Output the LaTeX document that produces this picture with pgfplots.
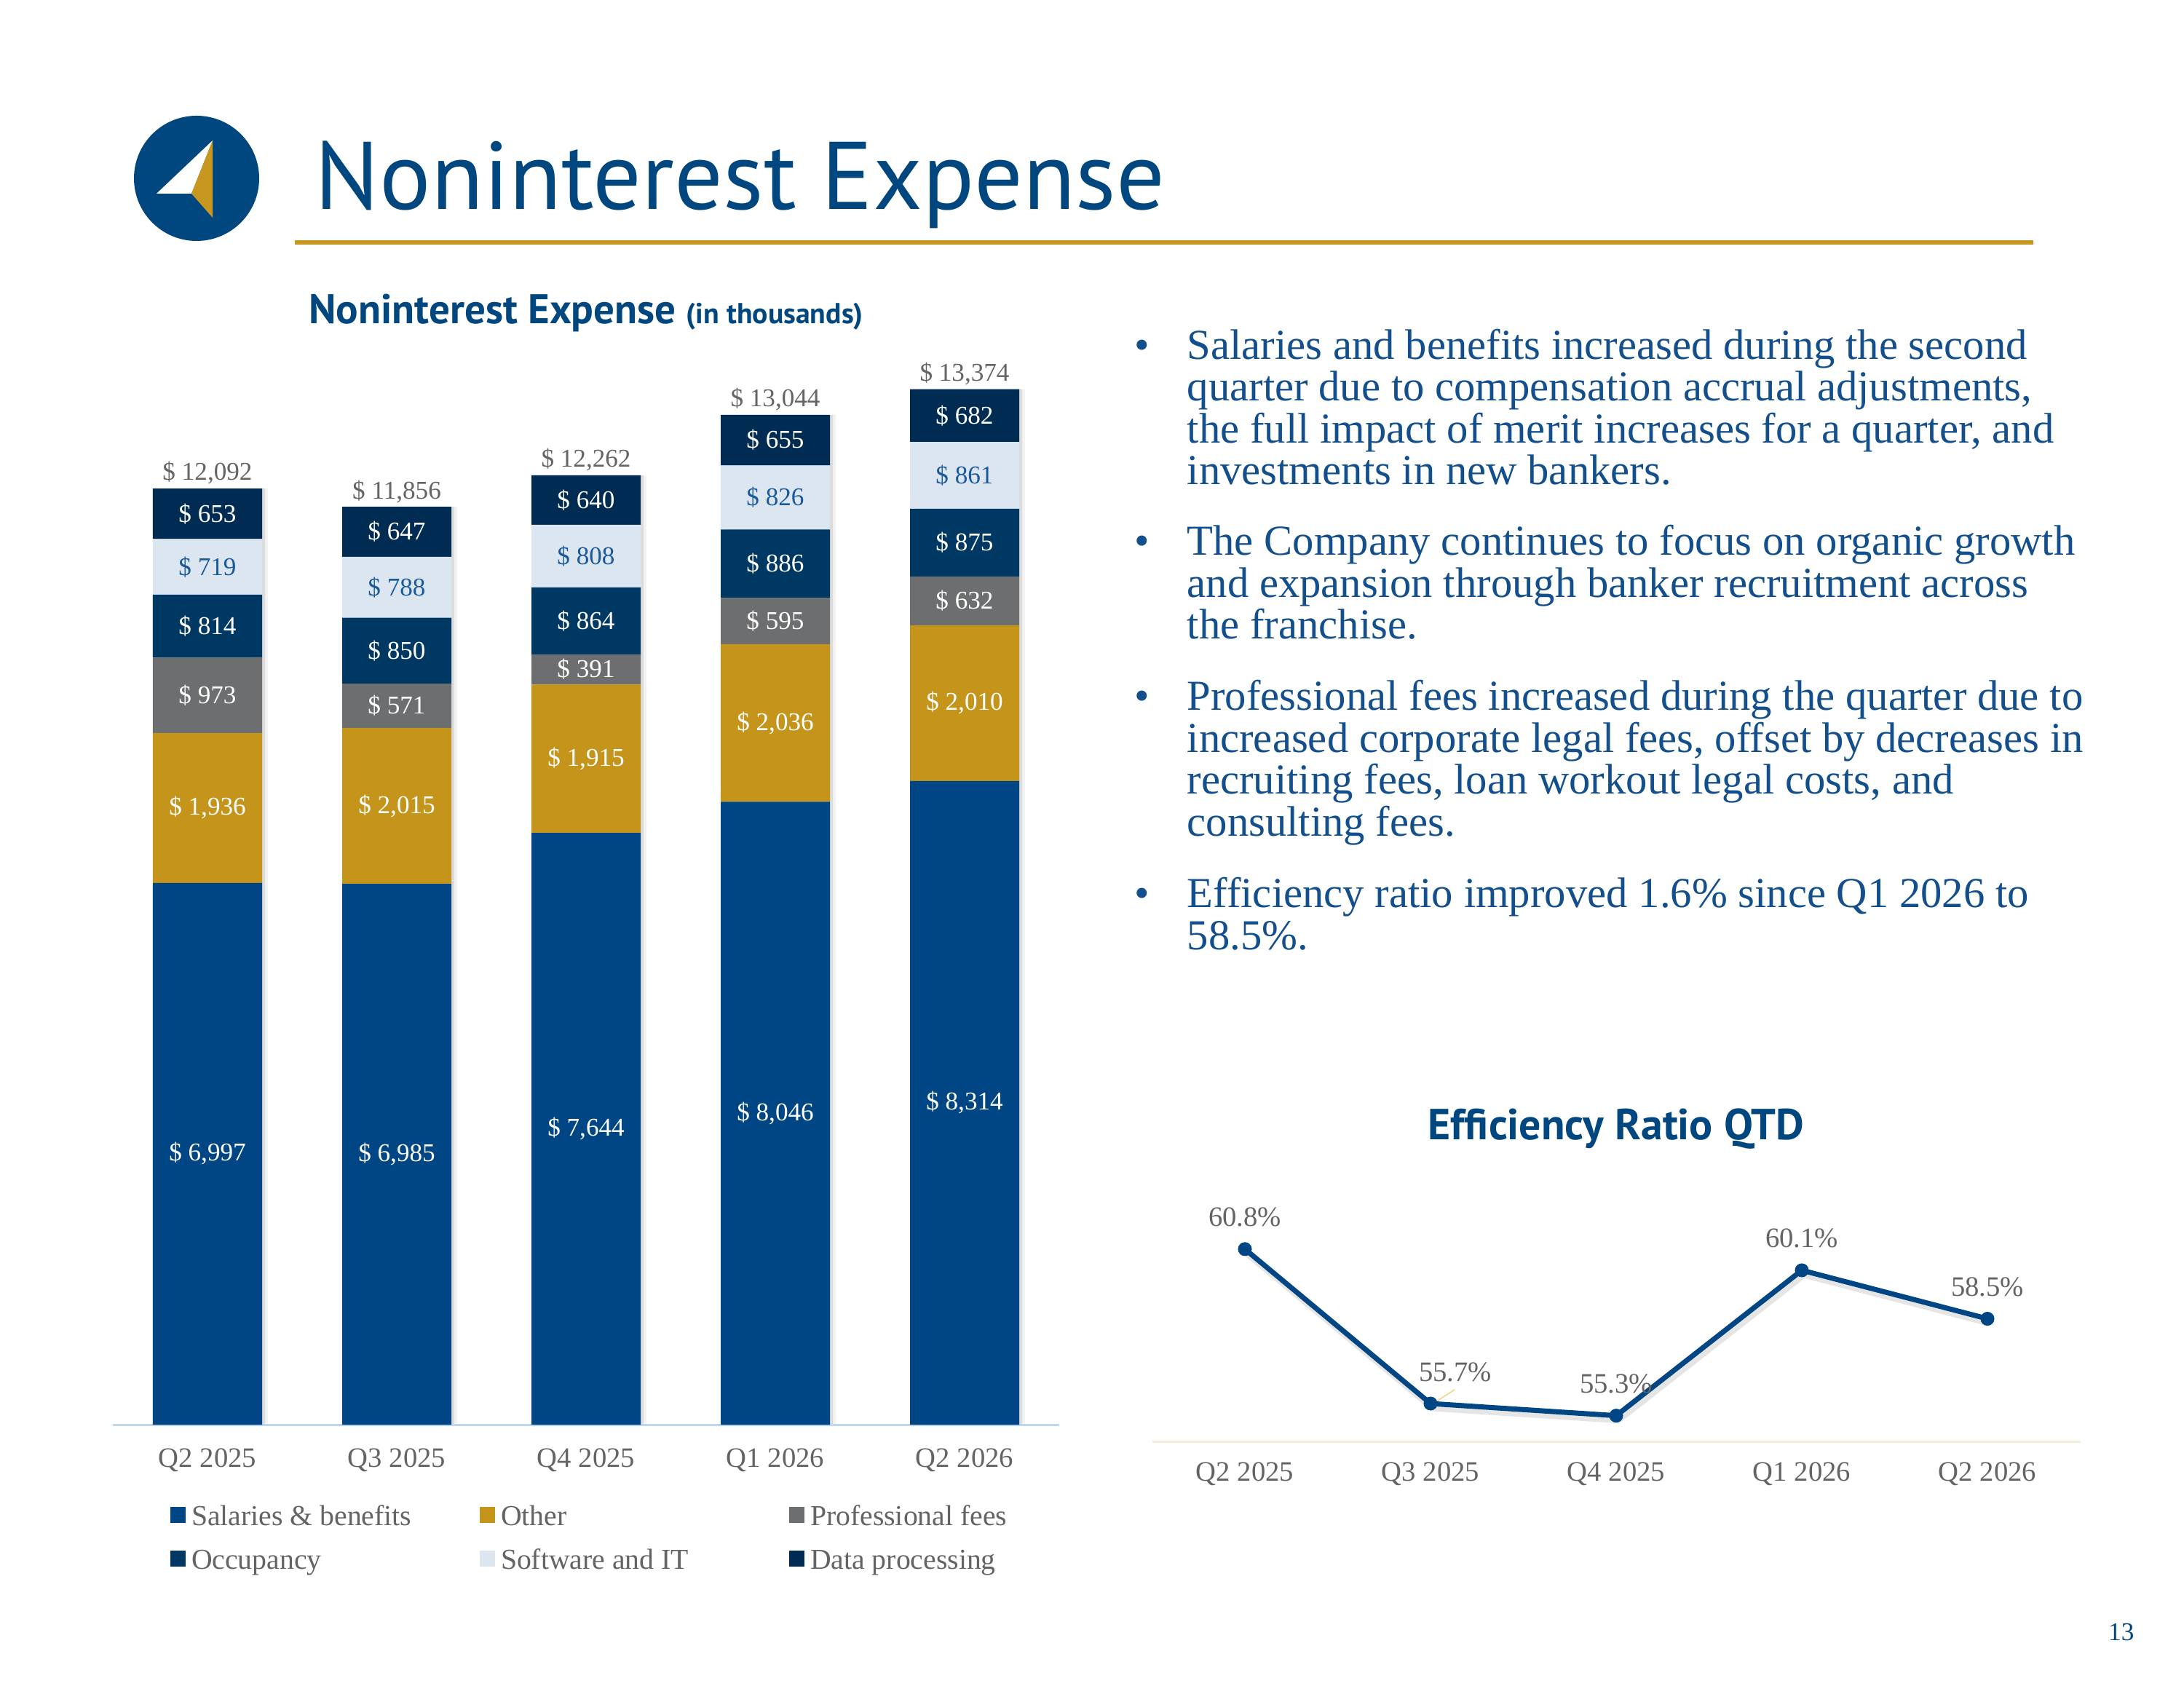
\documentclass[border=0pt]{standalone}
\usepackage{fontspec}
\usepackage{pgfplots}
\usepackage{pgfplotstable}
\pgfplotsset{compat=1.18}
\setmainfont{Liberation Serif}
\newfontfamily\headfont{PT Sans}

\definecolor{brandblue}{HTML}{00467F}
\definecolor{brandgold}{HTML}{C8971F}
\definecolor{salblue}{HTML}{004685}
\definecolor{othgold}{HTML}{C4941B}
\definecolor{progray}{HTML}{6D6E70}
\definecolor{occnavy}{HTML}{003864}
\definecolor{swlight}{HTML}{DCE6F0}
\definecolor{dpnavy}{HTML}{002C54}
\definecolor{axisblue}{HTML}{BDD7EE}
\definecolor{axiscream}{HTML}{F3EEDB}
\definecolor{labelgray}{HTML}{646464}
\definecolor{swtext}{HTML}{1A5A9A}
\definecolor{bodyblue}{HTML}{134F8C}
\definecolor{lineblue}{HTML}{004685}
\definecolor{leadgold}{HTML}{F2D48A}

% Noninterest expense by category, in thousands
\pgfplotstableread{
x sal oth pro occ sw dp
0 6997 1936 973 814 719 653
1 6985 2015 571 850 788 647
2 7644 1915 391 864 808 640
3 8046 2036 595 886 826 655
4 8314 2010 632 875 861 682
}\expensedata
% quarter total and the middle height of every segment, for the labels
\pgfplotstablecreatecol[create col/expr={\thisrow{sal}+\thisrow{oth}+\thisrow{pro}+\thisrow{occ}+\thisrow{sw}+\thisrow{dp}}]{total}\expensedata
\pgfplotstablecreatecol[create col/expr={\thisrow{sal}/2}]{msal}\expensedata
\pgfplotstablecreatecol[create col/expr={\thisrow{sal}+\thisrow{oth}/2}]{moth}\expensedata
\pgfplotstablecreatecol[create col/expr={\thisrow{sal}+\thisrow{oth}+\thisrow{pro}/2}]{mpro}\expensedata
\pgfplotstablecreatecol[create col/expr={\thisrow{sal}+\thisrow{oth}+\thisrow{pro}+\thisrow{occ}/2}]{mocc}\expensedata
\pgfplotstablecreatecol[create col/expr={\thisrow{sal}+\thisrow{oth}+\thisrow{pro}+\thisrow{occ}+\thisrow{sw}/2}]{msw}\expensedata
\pgfplotstablecreatecol[create col/expr={\thisrow{sal}+\thisrow{oth}+\thisrow{pro}+\thisrow{occ}+\thisrow{sw}+\thisrow{dp}/2}]{mdp}\expensedata

% Efficiency ratio (QTD, percent)
\pgfplotstableread{
x ratio
0 60.8
1 55.7
2 55.3
3 60.1
4 58.5
}\effdata

\pgfplotsset{
  /pgf/number format/assume math mode=true,
  expaxis/.style={
    at={(1.55cm,3.58cm)}, anchor=south west,
    scale only axis, width=13cm, height=14.889cm,
    xmin=-0.5, xmax=4.5, ymin=0, ymax=14000,
    clip=false,
  },
  seglabel/.style={
    draw=none, mark=none, point meta=explicit,
    nodes near coords={\$ \pgfmathprintnumber{\pgfplotspointmeta}},
    every node near coord/.append style={anchor=center,
      font=\fontsize{10}{12}\selectfont, text=#1},
  },
  pctlabel/.style={
    draw=none, mark=none, point meta=explicit,
    nodes near coords={\pgfmathprintnumber[fixed,fixed zerofill,precision=1]{\pgfplotspointmeta}\%},
    every node near coord/.append style={anchor=base, yshift=0.31cm,
      font=\fontsize{11}{13}\selectfont, text=labelgray},
  },
}

\begin{document}
\begin{tikzpicture}
% page
\fill[white] (0,0) rectangle (30,23.15);

% logo
\fill[brandblue] (2.70,20.70) circle (0.86);
\fill[white] (2.92,21.22) -- (2.15,20.49) -- (2.63,20.49) -- cycle;
\fill[brandgold] (2.92,21.22) -- (2.63,20.49) -- (2.92,20.16) -- cycle;

% heading
\node[anchor=base west, inner sep=0, text=brandblue] at (4.32,20.27)
  {\headfont\fontsize{37.5}{44}\selectfont Noninterest Expense};
\draw[brandgold, line width=0.06cm] (4.05,19.82) -- (27.93,19.82);

% chart titles
\node[anchor=base, inner sep=0, text=brandblue] at (8.05,18.70)
  {\headfont\bfseries\fontsize{16.2}{19}\selectfont Noninterest Expense \fontsize{11.3}{13}\selectfont(in thousands)};
\node[anchor=base, inner sep=0, text=brandblue] at (22.20,7.49)
  {\headfont\bfseries\fontsize{17}{20}\selectfont Efficiency Ratio QTD};

% commentary
\begin{scope}[every node/.style={anchor=base west, inner sep=0, text=bodyblue,
    font=\fontsize{16.7}{20}\selectfont}]
\node at (15.58,18.215) {•};
\node at (16.30,18.215) {Salaries and benefits increased during the second};
\node at (16.30,17.641) {quarter due to compensation accrual adjustments,};
\node at (16.30,17.067) {the full impact of merit increases for a quarter, and};
\node at (16.30,16.493) {investments in new bankers.};
\node at (15.58,15.52) {•};
\node at (16.30,15.52) {The Company continues to focus on organic growth};
\node at (16.30,14.946) {and expansion through banker recruitment across};
\node at (16.30,14.372) {the franchise.};
\node at (15.58,13.39) {•};
\node at (16.30,13.39) {Professional fees increased during the quarter due to};
\node at (16.30,12.816) {increased corporate legal fees, offset by decreases in};
\node at (16.30,12.242) {recruiting fees, loan workout legal costs, and};
\node at (16.30,11.668) {consulting fees.};
\node at (15.58,10.68) {•};
\node at (16.30,10.68) {Efficiency ratio improved 1.6\% since Q1 2026 to};
\node at (16.30,10.106) {58.5\%.};
\end{scope}

% page number
\node[anchor=base east, inner sep=0, text=brandblue] at (29.32,0.62)
  {\fontsize{10}{12}\selectfont 13};

% soft shadow to the right of each bar
\begin{axis}[expaxis, hide axis]
\addplot[ybar, bar width=1.5cm, bar shift=0.08cm, fill=black, opacity=0.05, draw=none]
  table[x=x, y=total] {\expensedata};
\addplot[ybar, bar width=1.5cm, bar shift=0.04cm, fill=black, opacity=0.09, draw=none]
  table[x=x, y=total] {\expensedata};
\end{axis}

% stacked expense bars
\begin{axis}[expaxis,
  ybar stacked, bar width=1.5cm,
  axis x line*=bottom, axis y line=none,
  x axis line style={draw=axisblue, line width=0.03cm},
  xtick={0,1,2,3,4},
  xticklabels={Q2 2025,Q3 2025,Q4 2025,Q1 2026,Q2 2026},
  xtick style={draw=none}, major tick length=0pt,
  xticklabel style={font=\fontsize{11}{13}\selectfont, text=labelgray, anchor=base, yshift=-0.58cm},
  ytick=\empty,
  legend columns=3,
  legend cell align=left,
  legend image code/.code={\fill[#1] (0cm,-0.06cm) rectangle (0.21cm,0.16cm);},
  legend style={at={(0.0608,-0.0732)}, anchor=north west, draw=none, fill=none,
    inner sep=0pt, outer sep=0pt, row sep=0.20cm,
    font=\fontsize{11.3}{13}\selectfont, text=labelgray,
    /tikz/every odd column/.append style={column sep=0.02cm},
    /tikz/every even column/.append style={column sep=0cm},
    nodes={text width=3.9cm, align=flush left, text height=0.3cm, text depth=0.1cm,
      inner xsep=0.06cm, inner ysep=0pt}},
]
\addplot[fill=salblue, draw=none] table[x=x, y=sal] {\expensedata};
\addlegendentry{Salaries \& benefits}
\addplot[fill=othgold, draw=none] table[x=x, y=oth] {\expensedata};
\addlegendentry{Other}
\addplot[fill=progray, draw=none] table[x=x, y=pro] {\expensedata};
\addlegendentry{Professional fees}
\addplot[fill=occnavy, draw=none] table[x=x, y=occ] {\expensedata};
\addlegendentry{Occupancy}
\addplot[fill=swlight, draw=none] table[x=x, y=sw] {\expensedata};
\addlegendentry{Software and IT}
\addplot[fill=dpnavy, draw=none] table[x=x, y=dp] {\expensedata};
\addlegendentry{Data processing}
\end{axis}

% value labels: each centred in its segment, totals above the stacks
\begin{axis}[expaxis, hide axis]
\addplot[seglabel=white] table[x=x, y=msal, meta=sal] {\expensedata};
\addplot[seglabel=white] table[x=x, y=moth, meta=oth] {\expensedata};
\addplot[seglabel=white] table[x=x, y=mpro, meta=pro] {\expensedata};
\addplot[seglabel=white] table[x=x, y=mocc, meta=occ] {\expensedata};
\addplot[seglabel=swtext] table[x=x, y=msw, meta=sw] {\expensedata};
\addplot[seglabel=white] table[x=x, y=mdp, meta=dp] {\expensedata};
\addplot[seglabel=labelgray, every node near coord/.append style={anchor=base, yshift=0.11cm}]
  table[x=x, y=total, meta=total] {\expensedata};
\end{axis}

% efficiency ratio line
\begin{axis}[
  at={(15.825cm,3.35cm)}, anchor=south west,
  scale only axis, width=12.75cm, height=2.9328cm,
  xmin=-0.5, xmax=4.5, ymin=54.45, ymax=61.5,
  clip=false,
  axis x line*=bottom, axis y line=none,
  x axis line style={draw=axiscream, line width=0.03cm},
  xtick={0,1,2,3,4},
  xticklabels={Q2 2025,Q3 2025,Q4 2025,Q1 2026,Q2 2026},
  xtick style={draw=none}, major tick length=0pt,
  xticklabel style={font=\fontsize{11}{13}\selectfont, text=labelgray, anchor=base, yshift=-0.54cm},
  ytick=\empty,
]
\draw[leadgold, line width=0.015cm] (axis cs:1,55.7) ++(0.02cm,-0.01cm) -- ++(0.31cm,0.20cm);
\addplot[black, opacity=0.10, line width=0.09cm,
  /tikz/transform canvas={xshift=0.03cm, yshift=-0.06cm}]
  table[x=x, y=ratio] {\effdata};
\addplot[lineblue, line width=0.07cm, mark=*, mark size=2.6pt,
  mark options={fill=lineblue, draw=lineblue, line width=0.2pt}]
  table[x=x, y=ratio] {\effdata};
% percentage labels; the Q3 2025 one sits a little to the right
\addplot[pctlabel, skip coords between index={1}{2}]
  table[x=x, y=ratio, meta=ratio] {\effdata};
\addplot[pctlabel, skip coords between index={0}{1}, skip coords between index={2}{5},
  every node near coord/.append style={xshift=0.34cm}]
  table[x=x, y=ratio, meta=ratio] {\effdata};
\end{axis}
\end{tikzpicture}
\end{document}
